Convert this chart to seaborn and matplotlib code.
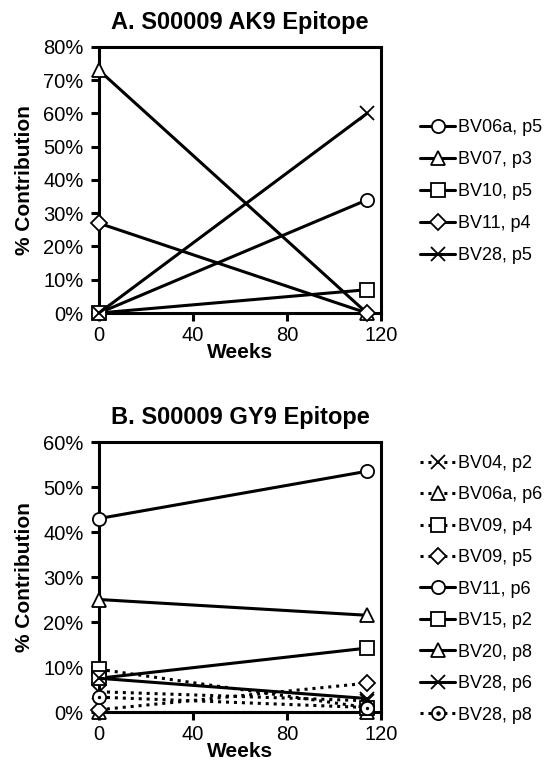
import matplotlib
matplotlib.use("Agg")
import numpy as np
import pandas as pd
import seaborn as sns
import matplotlib.pyplot as plt
from matplotlib.ticker import PercentFormatter, MultipleLocator
from matplotlib.legend_handler import HandlerTuple

# ---------------- data ----------------
weeks = [0, 114]

a_series = ["BV06a, p5", "BV07, p3", "BV10, p5", "BV11, p4", "BV28, p5"]
a_start = [0.0, 73.0, 0.0, 27.0, 0.0]
a_end = [34.0, 0.0, 7.0, 0.0, 60.0]
a_markers = ["o", "^", "s", "D", "x"]

b_series = ["BV04, p2", "BV06a, p6", "BV09, p4", "BV09, p5", "BV11, p6",
            "BV15, p2", "BV20, p8", "BV28, p6", "BV28, p8"]
b_start = [4.5, 0.0, 9.5, 0.5, 43.0, 7.5, 25.0, 7.5, 3.3]
b_end = [2.5, 0.0, 1.0, 6.4, 53.5, 14.2, 21.5, 3.0, 1.0]
b_markers = ["x", "^", "s", "D", "o", "s", "^", "x", "o"]
b_dotted = [True, True, True, True, False, False, False, False, True]
b_centerdot = [False, False, False, False, False, False, False, False, True]

FONT = "Liberation Sans"
sns.set_theme(style="white", rc={"text.color": "black",
                                 "axes.labelcolor": "black",
                                 "xtick.color": "black",
                                 "ytick.color": "black"})
plt.rcParams["font.family"] = [FONT, "DejaVu Sans"]

TICK_FS = 14.5
LABEL_FS = 15
TITLE_FS = 17
LEG_FS = 13


def long_df(series, start, end):
    rows = []
    for s, a, b in zip(series, start, end):
        rows.append({"series": s, "week": weeks[0], "pct": a})
        rows.append({"series": s, "week": weeks[1], "pct": b})
    return pd.DataFrame(rows)


def draw(ax, series, start, end, markers, dotted, centerdot, ymax, title):
    df = long_df(series, start, end)
    handles = []
    for i, s in enumerate(series):
        sub = df[df["series"] == s]
        n0 = len(ax.lines)
        ms = 10 if markers[i] == "x" else (8.5 if markers[i] == "D" else 9.5)
        sns.lineplot(data=sub, x="week", y="pct", ax=ax, color="black",
                     marker=markers[i], linewidth=2.2, markersize=ms,
                     markerfacecolor="white", markeredgecolor="black",
                     mew=1.3, clip_on=False, zorder=3, legend=False)
        h = ax.lines[n0]
        h.set_clip_on(False)
        if dotted[i]:
            h.set_linestyle((0, (1, 1.6)))
        if centerdot[i]:
            sns.scatterplot(data=sub, x="week", y="pct", ax=ax, color="black",
                            marker="o", s=6, linewidth=0, zorder=4,
                            clip_on=False, legend=False)
            dot = plt.Line2D([], [], ls="", marker="o", ms=2.2, color="black")
            handles.append((h, dot))
        else:
            handles.append(h)
    ax.set_xlim(0, 120)
    ax.set_ylim(0, ymax)
    ax.xaxis.set_major_locator(MultipleLocator(40))
    ax.yaxis.set_major_locator(MultipleLocator(10))
    ax.yaxis.set_major_formatter(PercentFormatter(decimals=0))
    for sp in ax.spines.values():
        sp.set_visible(True)
        sp.set_color("black")
        sp.set_linewidth(2.2)
    ax.tick_params(axis="y", direction="out", length=6, width=2.2,
                   labelsize=TICK_FS, left=True, pad=5, colors="black")
    ax.tick_params(axis="x", direction="out", length=6, width=2.2,
                   labelsize=TICK_FS, bottom=True, pad=3, colors="black")
    ax.set_xlabel("Weeks", fontsize=LABEL_FS, fontweight="bold", labelpad=-1,
                  color="black")
    ax.set_ylabel("% Contribution", fontsize=LABEL_FS, fontweight="bold",
                  labelpad=7, color="black")
    ax.set_title(title, fontsize=TITLE_FS, fontweight="bold", pad=13,
                 color="black")
    return handles


fig = plt.figure(figsize=(5.58, 7.74), dpi=100)
axA = fig.add_axes([0.1774, 0.5956, 0.5054, 0.3437])
axB = fig.add_axes([0.1774, 0.0801, 0.5054, 0.3488])

hA = draw(axA, a_series, a_start, a_end, a_markers, [False] * 5, [False] * 5,
          80, "A. S00009 AK9 Epitope")
hB = draw(axB, b_series, b_start, b_end, b_markers, b_dotted, b_centerdot,
          60, "B. S00009 GY9 Epitope")

legkw = dict(frameon=False, fontsize=LEG_FS, handlelength=1.95,
             handletextpad=0.15, numpoints=1, loc="upper left",
             borderpad=0, borderaxespad=0, labelcolor="black",
             handler_map={tuple: HandlerTuple(ndivide=1)})
fig.legend(hA, a_series, bbox_to_anchor=(420 / 558, 1 - 119 / 774),
           labelspacing=0.83, **legkw)
fig.legend(hB, b_series, bbox_to_anchor=(420 / 558, 1 - 455 / 774),
           labelspacing=0.8, **legkw)

fig.savefig("out.png", dpi=100)
